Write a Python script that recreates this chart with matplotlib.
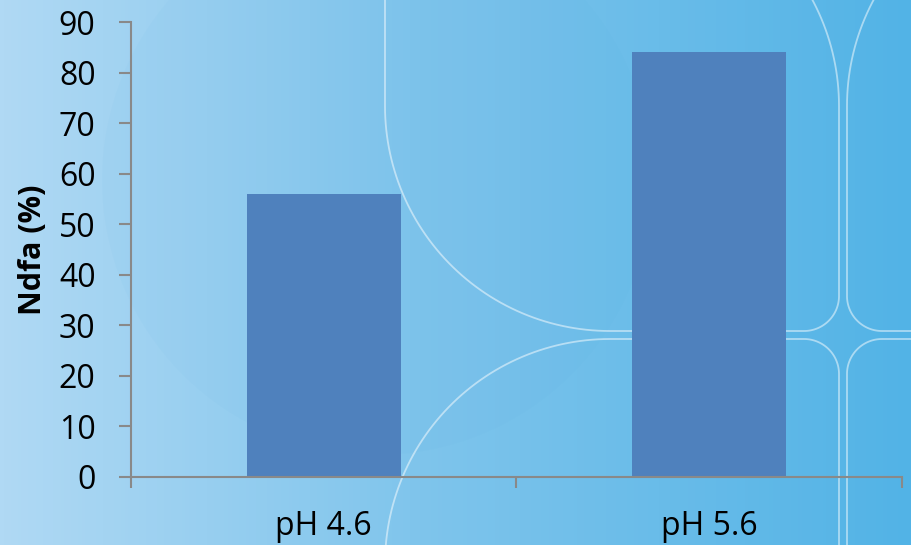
import numpy as np
import matplotlib.pyplot as plt
from matplotlib.colors import LinearSegmentedColormap
from matplotlib.patches import Circle

categories = ['pH 4.6', 'pH 5.6']
ndfa = [56, 84]
y_ticks = list(range(0, 91, 10))

plt.rcParams['font.family'] = ['Open Sans', 'DejaVu Sans']

fig = plt.figure(figsize=(9.12, 5.45), dpi=100)

# background: horizontal blue gradient plus thin decorative curves (pixel coords)
bg = fig.add_axes([0, 0, 1, 1], zorder=0)
bg.set_xlim(0, 912)
bg.set_ylim(545, 0)
bg.axis('off')
cmap = LinearSegmentedColormap.from_list(
    'bgblue', [(0, '#b0d9f4'), (0.45, '#80c5ec'), (1, '#52b3e6')])
bg.imshow(np.linspace(0, 1, 256)[None, :], cmap=cmap, aspect='auto',
          extent=[0, 912, 545, 0])
bg.add_patch(Circle((377, 180), 275, facecolor='#3d9fdc', alpha=0.03,
                    edgecolor='none'))


def arc(cx, cy, r, t0, t1):
    t = np.radians(np.linspace(t0, t1, 60))
    return cx + r * np.cos(t), cy + r * np.sin(t)


line_kw = dict(color='white', alpha=0.5, lw=1.3, solid_capstyle='butt')
R, r = 225, 35
segments = [
    # upper left block
    ([385, 385], [-10, 106]),
    arc(610, 106, R, 180, 90),
    ([610, 804], [331, 331]),
    arc(804, 296, r, 90, 0),
    ([839, 839], [296, 106]),
    arc(614, 106, R, 0, -90),
    # lower left block
    arc(610, 564, R, -180, -90),
    ([610, 804], [339, 339]),
    arc(804, 374, r, -90, 0),
    ([839, 839], [374, 560]),
    # upper right block
    ([847, 847], [296, 106]),
    arc(882, 296, r, 180, 90),
    ([882, 920], [331, 331]),
    arc(1072, 106, R, 180, 270),
    # lower right block
    ([847, 847], [374, 560]),
    arc(882, 374, r, 180, 270),
    ([882, 920], [339, 339]),
]
for xs, ys in segments:
    bg.plot(xs, ys, **line_kw)

# the chart itself
ax = fig.add_axes([0.1436, 0.1248, 0.8454, 0.8348], zorder=1)
ax.patch.set_alpha(0)

x = np.arange(len(categories))
ax.bar(x, ndfa, width=0.4, color='#4f81bd', zorder=2)

ax.set_xlim(-0.5, len(categories) - 0.5)
ax.set_ylim(0, 90)
ax.set_yticks(y_ticks)

ax.set_xticks(np.arange(len(categories) + 1) - 0.5)
ax.set_xticklabels([])
ax.set_xticks(x, minor=True)
ax.set_xticklabels(categories, minor=True)

for side in ['top', 'right']:
    ax.spines[side].set_visible(False)
for side in ['left', 'bottom']:
    ax.spines[side].set_color('#898989')
    ax.spines[side].set_linewidth(1.5)

ax.tick_params(axis='y', which='major', length=8.5, width=1.5,
               color='#898989', labelsize=23, pad=17, labelcolor='black')
ax.tick_params(axis='x', which='major', length=8, width=1.5,
               color='#898989')
ax.tick_params(axis='x', which='minor', length=0, labelsize=23, pad=24,
               labelcolor='black')

ax.set_ylabel('Ndfa (%)', fontsize=22, fontweight='bold')
ax.yaxis.set_label_coords(-0.108, 0.5)

fig.savefig('out.png', dpi=100)
